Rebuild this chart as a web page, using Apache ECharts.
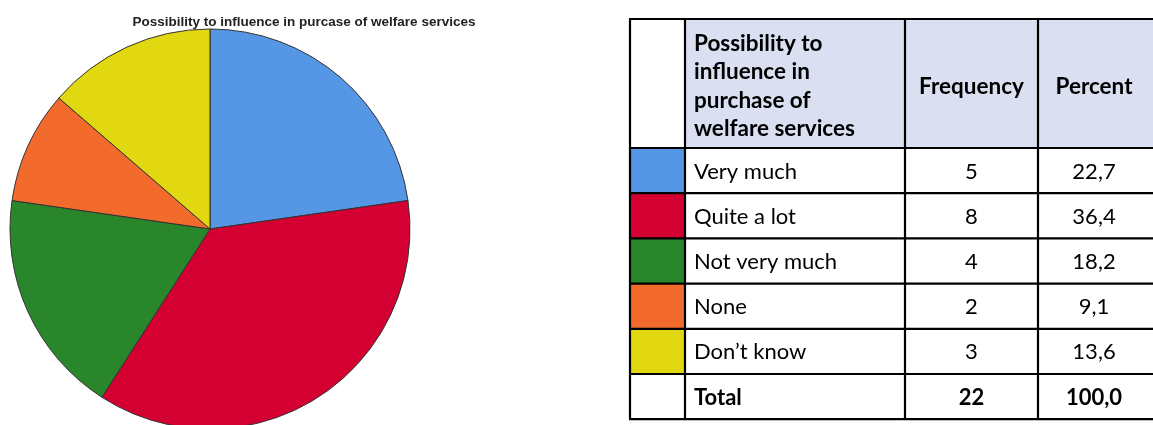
<!DOCTYPE html>
<html>
<head>
<meta charset="utf-8">
<script src="https://cdn.jsdelivr.net/npm/echarts@6/dist/echarts.min.js"></script>
<style>
  html, body { margin: 0; padding: 0; background: #ffffff; }
  #chart { width: 1153px; height: 425px; }
</style>
</head>
<body>
<div id="chart"></div>
<script>
// Survey answers: possibility to influence in purchase of welfare services
const chartTitle = 'Possibility to influence in purcase of welfare services';
const categories = ['Very much', 'Quite a lot', 'Not very much', 'None', 'Don\u2019t know'];
const frequencies = [5, 8, 4, 2, 3];
const percents = ['22,7', '36,4', '18,2', '9,1', '13,6'];
const totalLabel = 'Total';
const totalFrequency = '22';
const totalPercent = '100,0';
const headerLines = ['Possibility to', 'influence in', 'purchase of', 'welfare services'];
const headerFrequency = 'Frequency';
const headerPercent = 'Percent';
const colors = ['#5596e5', '#d50032', '#2a862a', '#f26b2d', '#e1d811'];

const chart = echarts.init(document.getElementById('chart'), null, { renderer: 'canvas' });

// Table geometry
const colX = [630, 685, 905, 1038, 1162];
const headerTop = 19, headerBottom = 148;
const rowH = 45.2;
const tableFont = 'Lato, "Open Sans", sans-serif';
const lineW = 2.2;

function buildTable() {
  const els = [];
  const nRows = categories.length + 1;
  const bottom = headerBottom + rowH * nRows;
  // header shading
  els.push({ type: 'rect', shape: { x: colX[1], y: headerTop, width: colX[4] - colX[1], height: headerBottom - headerTop },
    style: { fill: '#dae0f1' }, z: 1 });
  // colour swatches
  categories.forEach((c, i) => {
    els.push({ type: 'rect', shape: { x: colX[0], y: headerBottom + rowH * i, width: colX[1] - colX[0], height: rowH },
      style: { fill: colors[i] }, z: 1 });
  });
  // horizontal rules
  const ys = [headerTop, headerBottom];
  for (let i = 1; i <= nRows; i++) ys.push(headerBottom + rowH * i);
  ys.forEach(y => els.push({ type: 'line', shape: { x1: colX[0] - 1, y1: y, x2: colX[4], y2: y },
    style: { stroke: '#000', lineWidth: lineW }, z: 3 }));
  // vertical rules
  colX.forEach(x => els.push({ type: 'line', shape: { x1: x, y1: headerTop, x2: x, y2: bottom },
    style: { stroke: '#000', lineWidth: lineW }, z: 3 }));
  // header text
  const hFont = 'bold 22.5px ' + tableFont;
  headerLines.forEach((t, i) => {
    els.push({ type: 'text', x: colX[1] + 9, y: 44 + i * 28.2,
      style: { text: t, fill: '#000', font: hFont, textVerticalAlign: 'middle' }, z: 4 });
  });
  const hMid = (headerTop + headerBottom) / 2 + 3;
  els.push({ type: 'text', x: (colX[2] + colX[3]) / 2, y: hMid,
    style: { text: headerFrequency, fill: '#000', font: hFont, textAlign: 'center', textVerticalAlign: 'middle' }, z: 4 });
  els.push({ type: 'text', x: (colX[3] + 1150) / 2, y: hMid,
    style: { text: headerPercent, fill: '#000', font: hFont, textAlign: 'center', textVerticalAlign: 'middle' }, z: 4 });
  // body rows
  const rows = categories.map((c, i) => [c, String(frequencies[i]), percents[i], false]);
  rows.push([totalLabel, totalFrequency, totalPercent, true]);
  rows.forEach((r, i) => {
    const y = headerBottom + rowH * i + rowH / 2 + 1;
    const f = (r[3] ? 'bold ' : '') + '22px ' + tableFont;
    els.push({ type: 'text', x: colX[1] + 9, y: y,
      style: { text: r[0], fill: '#000', font: f, textVerticalAlign: 'middle' }, z: 4 });
    els.push({ type: 'text', x: (colX[2] + colX[3]) / 2, y: y,
      style: { text: r[1], fill: '#000', font: f, textAlign: 'center', textVerticalAlign: 'middle' }, z: 4 });
    els.push({ type: 'text', x: (colX[3] + 1150) / 2, y: y,
      style: { text: r[2], fill: '#000', font: f, textAlign: 'center', textVerticalAlign: 'middle' }, z: 4 });
  });
  return els;
}

chart.setOption({
  backgroundColor: '#ffffff',
  animation: false,
  title: {
    text: chartTitle,
    left: 299,
    top: 10,
    textAlign: 'center',
    textStyle: { fontFamily: '"Liberation Sans", Arial, sans-serif', fontSize: 13.5, fontWeight: 'bold', color: '#222' }
  },
  series: [{
    type: 'pie',
    center: [210, 229],
    radius: [0, 200],
    startAngle: 90,
    clockwise: true,
    label: { show: false },
    labelLine: { show: false },
    emphasis: { disabled: true },
    itemStyle: { borderColor: '#333', borderWidth: 1 },
    data: categories.map((c, i) => ({ name: c, value: frequencies[i], itemStyle: { color: colors[i] } }))
  }],
  graphic: buildTable()
});
</script>
</body>
</html>
